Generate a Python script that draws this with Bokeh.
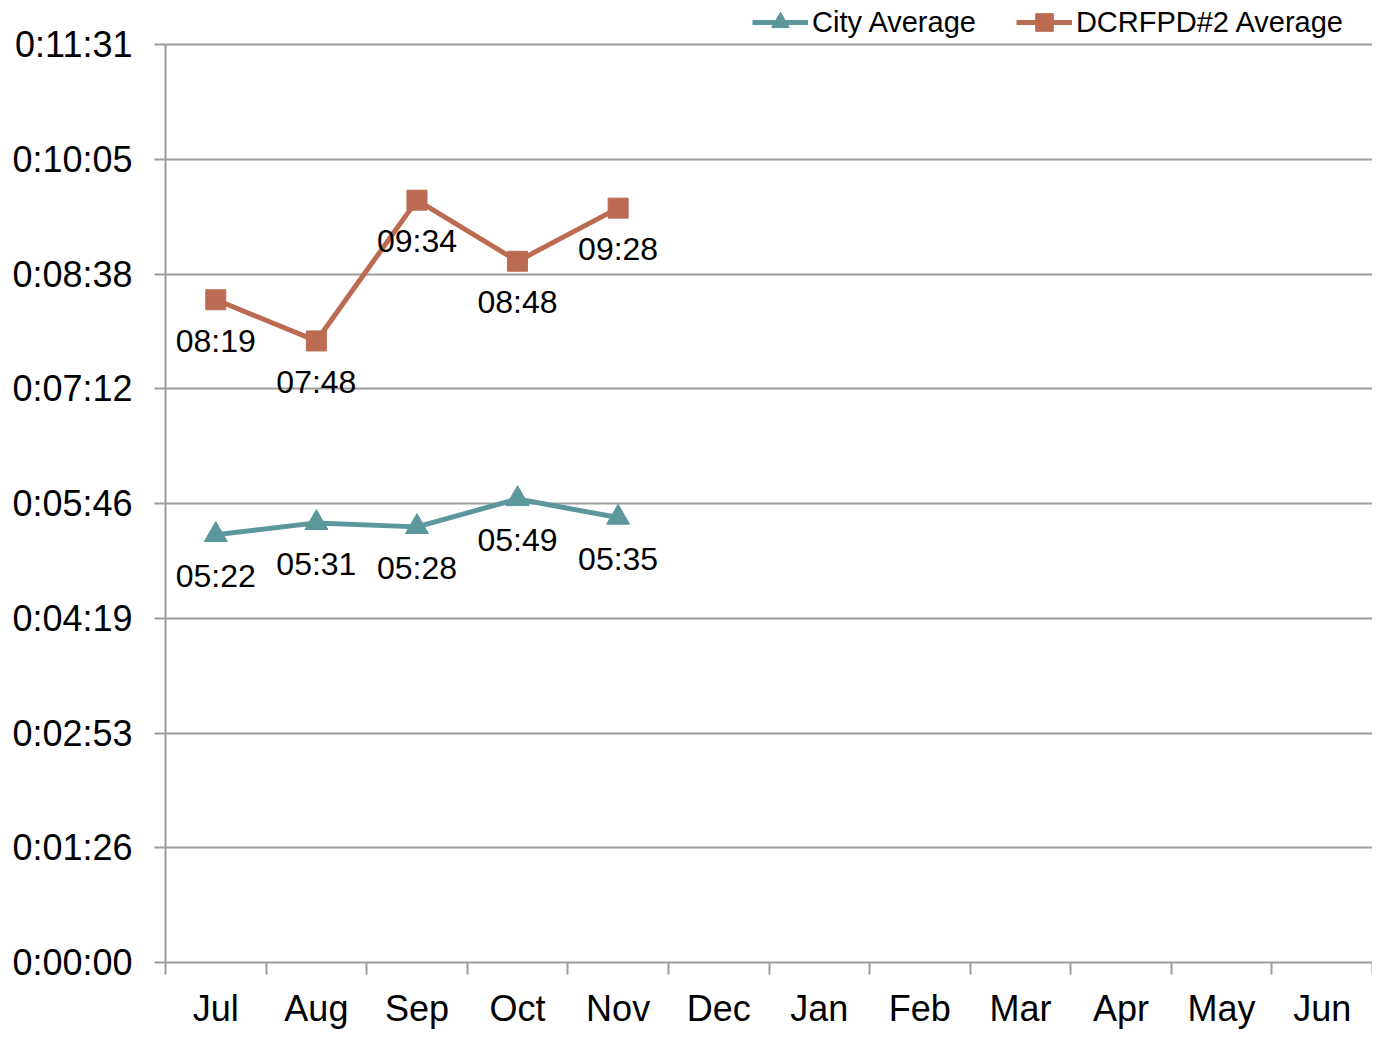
from bokeh.plotting import figure
from bokeh.models import FixedTicker, Legend, LegendItem, Range1d
from bokeh.embed import file_html
from bokeh.resources import INLINE
from bokeh.core.properties import value

months = ["Jul", "Aug", "Sep", "Oct", "Nov", "Dec", "Jan", "Feb", "Mar", "Apr", "May", "Jun"]
city_secs = [322, 331, 328, 349, 335]          # 05:22, 05:31, 05:28, 05:49, 05:35
dcr_secs = [499, 468, 574, 528, 568]           # 08:19, 07:48, 09:34, 08:48, 09:28
y_tick_labels = ["0:00:00", "0:01:26", "0:02:53", "0:04:19", "0:05:46",
                 "0:07:12", "0:08:38", "0:10:05", "0:11:31"]
y_step = 86.4   # 0.001 day in seconds
y_max = 691.2

TEAL = "#5B979B"
BROWN = "#BC6B53"
GRAY = "#9C9C9C"
FONT = "Liberation Sans"

W, H = 1372, 1032
LEFT = 165
BOTTOM = 70            # x-axis panel height
GRID_TOP = 44          # pixel row of the top gridline
FRAME_H = H - BOTTOM   # frame spans the full height above the x axis
X_TICK_OUT, X_STANDOFF = 12, 1

# extend the y range so that the area above the top gridline can hold the legend
y_end = y_max * FRAME_H / (FRAME_H - GRID_TOP)


def fmt(s):
    return f"{s // 60:02d}:{s % 60:02d}"


y_ticks = [i * y_step for i in range(len(y_tick_labels))]
x_centers = [i + 0.5 for i in range(len(months))]
x_city = x_centers[:len(city_secs)]
x_dcr = x_centers[:len(dcr_secs)]

p = figure(width=W, height=H, output_backend="svg", toolbar_location=None,
           x_range=Range1d(0, len(months)), y_range=Range1d(0, y_end),
           min_border_left=LEFT, min_border_top=0, min_border_right=0,
           min_border_bottom=BOTTOM)
p.outline_line_color = None
p.background_fill_color = "white"
p.border_fill_color = "white"

p.xgrid.visible = False
p.ygrid.grid_line_color = GRAY
p.ygrid.grid_line_width = 2

# y axis
p.yaxis.ticker = FixedTicker(ticks=y_ticks)
p.yaxis.bounds = (0, y_max)
p.yaxis.major_label_overrides = {t: lab for t, lab in zip(y_ticks, y_tick_labels)}
p.yaxis.axis_line_color = GRAY
p.yaxis.axis_line_width = 2
p.yaxis.major_tick_line_color = GRAY
p.yaxis.major_tick_line_width = 2
p.yaxis.major_tick_in = 0
p.yaxis.major_tick_out = 11
p.yaxis.minor_tick_line_color = None
p.yaxis.major_label_standoff = 22
p.yaxis.major_label_text_font = FONT
p.yaxis.major_label_text_font_size = "36px"
p.yaxis.major_label_text_color = "black"

# x axis: labels at category centres, ticks at category boundaries
p.xaxis.ticker = FixedTicker(ticks=x_centers, minor_ticks=list(range(len(months) + 1)))
p.xaxis.major_label_overrides = {x: m for x, m in zip(x_centers, months)}
p.xaxis.axis_line_color = GRAY
p.xaxis.axis_line_width = 2
p.xaxis.major_tick_line_color = None
p.xaxis.major_tick_out = 0
p.xaxis.major_tick_in = 0
p.xaxis.minor_tick_line_color = GRAY
p.xaxis.minor_tick_line_width = 2
p.xaxis.minor_tick_in = 0
p.xaxis.minor_tick_out = X_TICK_OUT
p.xaxis.major_label_standoff = X_TICK_OUT + X_STANDOFF
p.xaxis.major_label_text_font = FONT
p.xaxis.major_label_text_font_size = "36px"
p.xaxis.major_label_text_color = "black"

# series
l1 = p.line(x_city, city_secs, line_color=TEAL, line_width=5)
s1 = p.scatter(x_city, city_secs, marker="triangle", size=23, fill_color=TEAL, line_color=TEAL)
l2 = p.line(x_dcr, dcr_secs, line_color=BROWN, line_width=5)
s2 = p.scatter(x_dcr, dcr_secs, marker="square", size=20, fill_color=BROWN, line_color=BROWN)

p.text(x_city, city_secs, text=[fmt(s) for s in city_secs], text_align="center",
       text_baseline="middle", y_offset=41, text_font=value(FONT),
       text_font_size="32px", text_color="black")
p.text(x_dcr, dcr_secs, text=[fmt(s) for s in dcr_secs], text_align="center",
       text_baseline="middle", y_offset=41, text_font=value(FONT),
       text_font_size="32px", text_color="black")

LEG_H = 44
legend = Legend(items=[LegendItem(label="City Average", renderers=[l1, s1]),
                       LegendItem(label="DCRFPD#2 Average", renderers=[l2, s2])],
                orientation="horizontal", location=(587, FRAME_H - 22 - LEG_H // 2),
                label_text_font=FONT, label_text_font_size="29px", label_text_color="black",
                glyph_width=56, glyph_height=LEG_H, label_standoff=4, spacing=40,
                padding=0, margin=0, border_line_color=None, background_fill_alpha=0)
p.add_layout(legend, "center")

open("out.html", "w").write(file_html(p, INLINE))
